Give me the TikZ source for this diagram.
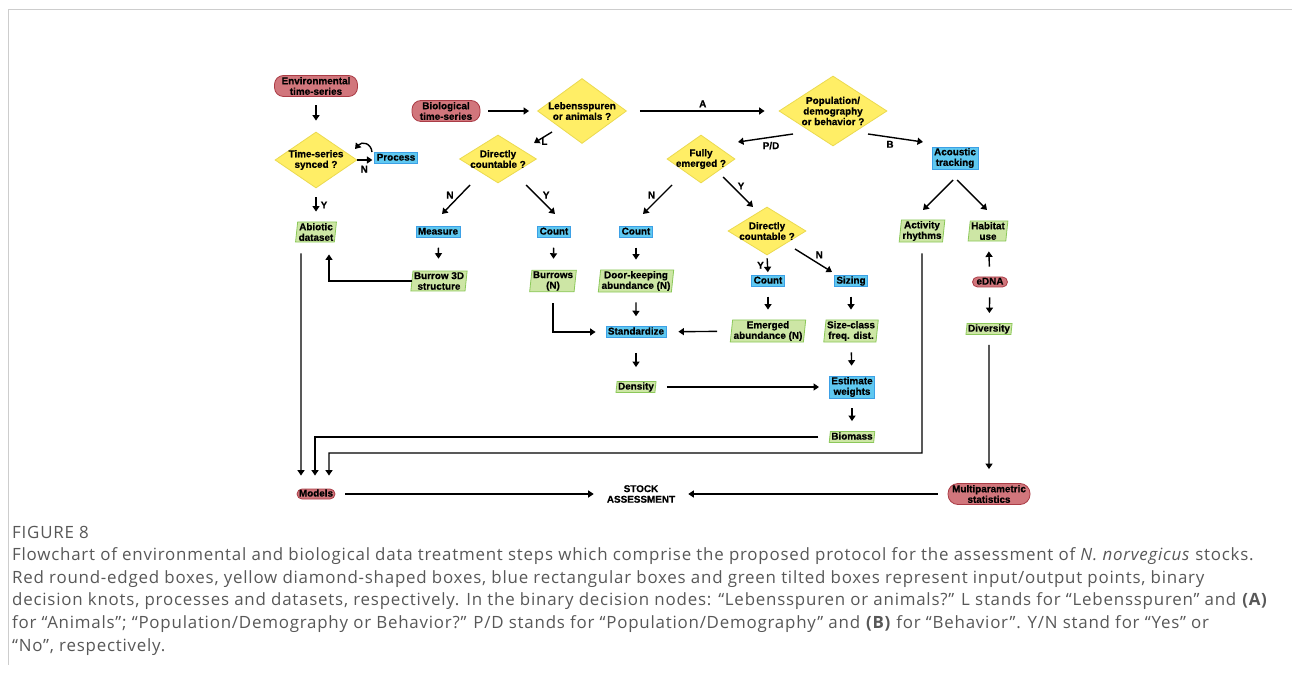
\documentclass[tikz,border=0pt]{standalone}
\usepackage{fontspec}
\setmainfont[BoldFeatures={FakeBold=0.6}]{Liberation Sans}
\newfontfamily\capfont[LetterSpace=4.6]{Open Sans}
\usetikzlibrary{shapes.geometric,arrows.meta}
\definecolor{rfill}{RGB}{209,118,124}
\definecolor{rdraw}{RGB}{170,60,70}
\definecolor{yfill}{RGB}{255,238,102}
\definecolor{ydraw}{RGB}{235,218,80}
\definecolor{bfill}{RGB}{95,200,240}
\definecolor{bdraw}{RGB}{60,160,230}
\definecolor{gfill}{RGB}{205,230,165}
\definecolor{gdraw}{RGB}{140,200,90}
\definecolor{capgrey}{RGB}{88,88,88}
\definecolor{framegrey}{RGB}{205,205,205}
\begin{document}
\begin{tikzpicture}[x=1pt,y=-1pt,
  every node/.style={font=\fontsize{9.9}{10.6}\selectfont\bfseries, align=center, text=black},
  inp/.style={rectangle, rounded corners=#1, fill=rfill, draw=rdraw, line width=0.8pt, inner sep=0pt},
  dia/.style={diamond, fill=yfill, draw=ydraw, line width=0.8pt, inner sep=0pt},
  proc/.style={rectangle, fill=bfill, draw=bdraw, line width=0.7pt, inner xsep=2pt, inner ysep=1pt},
  one/.style={text height=7pt, text depth=1.8pt},
  data/.style={trapezium, trapezium left angle=84, trapezium right angle=96, fill=gfill, draw=gdraw, line width=0.8pt, inner xsep=1pt, inner ysep=1.1pt},
  lbl/.style={inner sep=0pt},
  arr/.style={-{Triangle[width=7pt,length=5.5pt]}, line width=1.4pt},
  captext/.style={anchor=west, inner sep=0pt, font=\capfont\fontsize{16.9}{18}\selectfont, text=capgrey}
]
\useasboundingbox (0,0) rectangle (1292,684);
\fill[white] (0,0) rectangle (1292,684);
\draw[framegrey, line width=1pt] (1292,10) -- (8,10) -- (8,665);

% ---------- nodes ----------
\node[inp=9pt, minimum width=83pt, minimum height=21pt] (env) at (316,86) {Environmental\\time-series};
\node[dia, minimum width=82pt, minimum height=56pt, label={[lbl]center:{Time-series\\synced ?}}] (syn) at (316,160) {};
\node[proc, one] (proc) at (396,158) {Process};
\node[data] (abio) at (316,232) {Abiotic\\dataset};
\node[inp=9pt, minimum width=68pt, minimum height=21pt] (bio) at (446,111) {Biological\\time-series};
\node[dia, minimum width=89pt, minimum height=65pt, label={[lbl]center:{Lebensspuren\\or animals ?}}] (leb) at (582,111) {};
\node[dia, minimum width=77pt, minimum height=48pt, label={[lbl]center:{Directly\\countable ?}}] (dc1) at (498,159) {};
\node[dia, minimum width=108pt, minimum height=70pt, label={[lbl]center:{Population/\\demography\\or behavior ?}}] (pop) at (833,111) {};
\node[dia, minimum width=68pt, minimum height=48pt, label={[lbl]center:{Fully\\emerged ?}}] (fe) at (701,159) {};
\node[proc] (ac) at (955,158) {Acoustic\\tracking};
\node[proc, one] (meas) at (438,232) {Measure};
\node[data] (b3d) at (439,281) {Burrow 3D\\structure};
\node[proc, one] (cnt1) at (554,232) {Count};
\node[data] (burr) at (553,281) {Burrows\\(N)};
\node[proc, one] (cnt2) at (636,232) {Count};
\node[data] (door) at (636,281) {Door-keeping\\abundance (N)};
\node[dia, minimum width=78pt, minimum height=48pt, label={[lbl]center:{Directly\\countable ?}}] (dc2) at (767,231) {};
\node[proc, one] (cnt3) at (768,281) {Count};
\node[proc, one] (siz) at (851,281) {Sizing};
\node[data] (emer) at (768,331) {Emerged\\abundance (N)};
\node[data] (scf) at (851,331) {Size-class\\freq. dist.};
\node[proc, one] (std) at (636,332) {Standardize};
\node[data, one] (dens) at (636,387) {Density};
\node[proc] (est) at (852,387) {Estimate\\weights};
\node[data, one] (biom) at (852,437) {Biomass};
\node[data] (act) at (922,231) {Activity\\rhythms};
\node[data] (hab) at (988,231) {Habitat\\use};
\node[inp=5pt, minimum width=35pt, minimum height=10pt, one] (edna) at (990,282) {eDNA};
\node[data, one] (div) at (989,329) {Diversity};
\node[inp=5pt, minimum width=38pt, minimum height=10pt, one] (mod) at (316,494) {Models};
\node[inner sep=0pt] (stock) at (641,494) {STOCK\\ASSESSMENT};
\node[inp=10pt, minimum width=82pt, minimum height=21pt] (multi) at (989,494) {Multiparametric\\statistics};

% ---------- connectors ----------
\draw[arr, shorten <=8.5pt, shorten >=11pt] (env) -- (syn);
\coordinate (lpA) at (372,152);
\coordinate (lpB) at (355,149);
\draw[arr] (lpA) .. controls (371,143) and (362,141) .. (lpB);
\draw[arr, shorten >=2pt] (syn.east) -- (syn.east -| proc.west) node[lbl, pos=0.4, below=5pt] (nlab0) {N};
\draw[arr, shorten <=9pt, shorten >=10pt] (syn) -- (abio) node[lbl, pos=0.5, right=4pt] (ylab0) {Y};
\draw[arr, shorten >=12pt] (b3d.west) -| ([xshift=13pt]abio.south);
\draw[arr, shorten <=11pt, shorten >=13pt] ([xshift=-15pt]abio.south) -- ([xshift=-15pt]mod.north);
\draw[arr, shorten <=11pt, shorten >=13pt] (biom.west) -| ([xshift=-1pt]mod.north);
\coordinate (ra) at (922,453);
\draw[arr, shorten <=11pt, shorten >=13pt] (act.south) -- (ra) -| ([xshift=13pt]mod.north);
\draw[arr, shorten <=10pt, shorten >=13pt] (mod) -- (stock);
\draw[arr, shorten <=10pt, shorten >=13pt] (multi) -- (stock);
\draw[arr, shorten <=10pt, shorten >=14pt] (div) -- (multi);
\draw[arr, shorten <=8pt, shorten >=8pt] (bio) -- (leb);
\draw[arr, shorten <=13pt, shorten >=14pt] (leb) -- (pop) node[lbl, midway, above=3pt] (alab) {A};
\draw[arr] ([shift={(-30,21)}]leb.center) -- ([shift={(36,-16)}]dc1.center) node[lbl, right=4pt, pos=0.85] (llab) {L};
\draw[arr] ([shift={(-40,23)}]pop.center) -- ([shift={(37,-17)}]fe.center) node[lbl, pos=0.4, below=4pt] (pdlab) {P/D};
\draw[arr] ([shift={(35,23)}]pop.center) -- ([shift={(-32,-16)}]ac.center) node[lbl, pos=0.4, below=3pt] (blab) {B};
\draw[arr] ([shift={(-28,26)}]dc1.center) -- ([shift={(4,-18)}]meas.center) node[lbl, pos=0.35, left=6pt] (nlab1) {N};
\draw[arr] ([shift={(28,26)}]dc1.center) -- ([shift={(1,-18)}]cnt1.center) node[lbl, pos=0.35, right=6pt] (ylab1) {Y};
\draw[arr] ([shift={(-29,26)}]fe.center) -- ([shift={(7,-18)}]cnt2.center) node[lbl, pos=0.35, left=6pt] (nlab2) {N};
\draw[arr] ([shift={(22,18)}]fe.center) -- ([shift={(-14,-24)}]dc2.center) node[lbl, pos=0.3, right=5pt] (ylab2) {Y};
\draw[arr] ([shift={(-2,22)}]ac.center) -- ([shift={(1,-21)}]act.center);
\draw[arr] ([shift={(2,22)}]ac.center) -- ([shift={(-1,-21)}]hab.center);
\draw[arr, shorten <=10pt, shorten >=12pt] (meas) -- (b3d);
\draw[arr, shorten <=10pt, shorten >=11pt] (cnt1) -- (burr);
\draw[arr, shorten <=10pt, shorten >=10pt] (cnt2) -- (door);
\draw[arr, shorten <=3pt, shorten >=3pt] (dc2.south) -- (cnt3.north) node[lbl, midway, left=3pt] (ylab3) {Y};
\draw[arr] ([shift={(28,18)}]dc2.center) -- ([shift={(-19,-9)}]siz.center) node[lbl, pos=0.5, above right=1.5pt] (nlab3) {N};
\draw[arr, shorten <=10pt, shorten >=10pt] (cnt3) -- (emer);
\draw[arr, shorten <=10pt, shorten >=10pt] (siz) -- (scf);
\draw[arr, shorten <=11pt, shorten >=10pt] (burr.south) |- (std.west);
\draw[arr, shorten <=10pt, shorten >=10pt] (door) -- (std);
\draw[arr, shorten <=14pt, shorten >=12pt] (emer) -- (std);
\draw[arr, shorten <=15pt, shorten >=14pt] (std) -- (dens);
\draw[arr, shorten <=11pt, shorten >=10pt] (dens) -- (est);
\draw[arr, shorten <=10pt, shorten >=10pt] (scf) -- (est);
\draw[arr, shorten <=10pt, shorten >=10pt] (est) -- (biom);
\draw[arr, shorten <=10pt, shorten >=10pt] (edna) -- (hab);
\draw[arr, shorten <=10pt, shorten >=10pt] (edna) -- (div);

% ---------- caption ----------
\node[captext] (fig) at (12,532) {FIGURE 8};
\node[captext] (c1) at (12,556) {Flowchart of environmental and biological data treatment steps which comprise the proposed protocol for the assessment of \textit{N. norvegicus} stocks.};
\node[captext] (c2) at (12,579) {Red round-edged boxes, yellow diamond-shaped boxes, blue rectangular boxes and green tilted boxes represent input/output points, binary};
\node[captext] (c3) at (12,601) {decision knots, processes and datasets, respectively. In the binary decision nodes: “Lebensspuren or animals?” L stands for “Lebensspuren” and \textbf{(A)}};
\node[captext] (c4) at (12,624) {for “Animals”; “Population/Demography or Behavior?” P/D stands for “Population/Demography” and \textbf{(B)} for “Behavior”. Y/N stand for “Yes” or};
\node[captext] (c5) at (12,647) {“No”, respectively.};
\end{tikzpicture}
\end{document}
